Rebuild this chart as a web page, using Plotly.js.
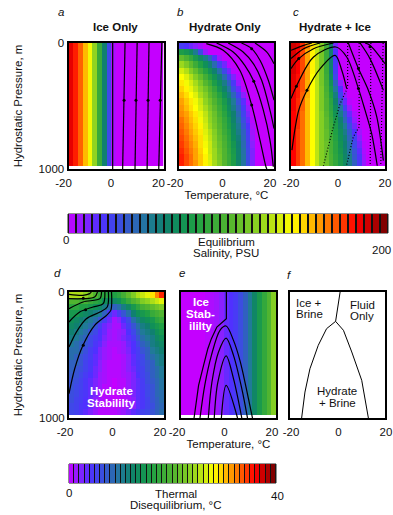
<!DOCTYPE html>
<html><head><meta charset="utf-8">
<script src="https://cdn.plot.ly/plotly-3.0.1.min.js"></script>
<style>html,body{margin:0;padding:0;background:#fff;overflow:hidden}#g{width:393px;height:515px}</style>
</head><body><div id="g"></div>
<script>
const FONT='"Liberation Sans",Arial,sans-serif';
const scale=[[0,'#c400ff'],[0.05,'#8a20ff'],[0.1,'#5030ff'],[0.15,'#3f48e8'],[0.2,'#3060c0'],[0.25,'#207a98'],[0.3,'#108070'],[0.35,'#109058'],[0.4,'#20a044'],[0.5,'#50b430'],[0.6,'#90d420'],[0.65,'#c8e810'],[0.7,'#ffff00'],[0.75,'#ffc800'],[0.8,'#ff8800'],[0.85,'#ff4800'],[0.9,'#ff0000'],[0.95,'#c00000'],[1,'#6c0000']];

// equilibrium salinity, PSU, per temperature column
const aProfile=[184,176,166,152,138,120,90,60,30,4];
const bRows=[
[25,20,15,10,5],
[78,74,68,52,32,8],
[105,98,88,76,66,54,40,22,6],
[122,114,104,92,80,70,58,44,28,14,2],
[132,126,116,106,94,82,72,60,46,30,14,2],
[140,134,126,116,106,94,82,72,58,44,28,12,2],
[144,138,132,124,114,102,92,78,68,54,40,24,8],
[148,142,136,128,120,110,100,88,74,62,48,32,16,2],
[152,146,140,134,124,116,104,94,82,70,56,42,26,10],
[156,150,144,138,130,120,110,100,88,76,64,50,34,18,4],
[158,152,146,140,132,124,114,104,92,80,68,54,40,24,8],
[160,156,150,144,136,128,118,108,96,84,72,60,44,28,12],
[164,158,152,146,138,130,120,110,100,88,76,62,48,32,16,2],
[166,160,154,148,142,132,122,112,102,90,78,66,52,36,20,4],
[168,162,156,150,144,134,126,116,104,92,82,68,54,40,24,6],
[170,164,158,152,146,136,128,118,106,96,84,70,58,42,26,8],
[172,166,160,154,146,138,130,120,108,98,86,74,60,44,28,10],
[174,168,162,156,148,140,130,122,110,100,88,76,62,46,30,12],
[176,170,164,156,150,142,132,122,112,100,90,78,62,48,30,12],
[176,170,164,158,150,142,134,124,114,102,90,78,64,48,32,12]];
const cRows=[
[188,184,174,160,146,132,116,92,60,14],
[186,180,170,156,142,128,112,90,60,20],
[186,180,170,156,142,128,112,90,60,20],
[186,180,170,156,142,128,112,90,60,22],
[186,180,170,156,142,128,112,90,62,24],
[184,178,168,156,140,128,112,92,66,30],
[184,178,168,154,140,128,112,94,72,40,10],
[184,176,168,154,140,128,114,96,76,48,20,2],
[182,176,166,154,140,128,114,98,80,56,28,8],
[182,174,166,152,140,128,114,100,84,62,38,16,2],
[182,174,166,152,140,128,114,100,86,68,48,26,8],
[180,174,164,152,140,128,116,102,88,72,54,36,16,4],
[180,174,164,152,140,128,116,104,90,76,60,42,24,8],
[180,174,164,152,140,128,116,104,92,78,64,50,32,14,2],
[180,172,164,152,140,128,116,106,94,80,68,54,38,20,6],
[180,172,164,152,140,128,116,106,94,82,70,58,42,26,10],
[180,172,164,152,140,128,116,108,96,84,72,60,46,30,14,2],
[180,172,164,152,140,128,116,108,96,84,74,62,48,34,18,4],
[180,172,164,152,140,128,116,108,98,86,76,64,52,36,22,6],
[180,172,164,152,140,128,116,110,98,88,76,66,54,40,24,8]];
// thermal disequilibrium, deg C
const dRows=[
[25,25,25,24,22,20,18,17,16,16,17,19,21,23,25,26,27,29,32,35],
[20,20,19,19,18,17,16,14,13,13,14,16,18,20,21,23,24,25,26,27],
[17,17,16,16,15,14,13,11,9,8,9,11,13,15,17,19,20,21,22,23],
[15,15,14,13,12,11,10,8,5,3,5,7,9,12,14,15,16,18,19,20],
[14,13,12,11,10,9,7,5,3,1,2,4,6,9,11,13,14,15,17,18],
[13,12,11,10,9,7,5,3,2,1,1,3,5,7,9,11,12,14,15,16],
[12,11,10,9,7,6,4,3,1.5,1,1.5,2,4,6,8,10,11,12,14,15],
[11,10,9,8,6,5,4,2.5,1.5,1,1.5,2.5,3.5,5,7,9,10,11,13,14],
[10,9,8,7,6,4.5,3.5,2,1,1,1,1.5,3,4,6,8,9,11,12,13],
[9,9,8,6.5,5,4,2.5,1.5,1,0.5,1,1.5,2.5,4,5,7,8,10,11,12],
[9,8,7,6,5,3.5,2.5,1.5,1,0.5,0.5,1,2,3.5,5,6,8,9,10,11],
[8,8,7,5.5,4.5,3.5,2,1,0.5,0.5,0.5,1,2,3.5,4.5,6,7,8,10,11],
[8,7,6.5,5.5,4.5,3,2,1,0.5,0.5,0.5,1,2,3,4.5,5.5,7,8,9,10],
[7.5,7,6,5,4,3,1.5,1,0.5,0.5,0.5,1,1.5,2.5,4,5.5,6.5,8,9,10],
[7,6.5,5.5,4.5,3.5,2.5,1.5,1,0.5,0,0.5,0.5,1.5,2.5,3.5,5,6.5,7.5,8.5,9.5],
[7,6,5.5,4.5,3.5,2.5,1.5,0.5,0.5,0,0.5,0.5,1.5,2.5,3.5,5,6,7,8.5,9.5],
[6.5,6,5,4.5,3.5,2.5,1.5,0.5,0.5,0,0.5,0.5,1,2.5,3.5,4.5,6,7,8.5,9],
[6.5,5.5,5,4,3,2,1,0.5,0.5,0,0,0.5,1,2,3.5,4.5,5.5,7,8,9],
[6,5.5,4.5,4,3,2,1,0.5,0.5,0.5,0.5,1,1.5,2,3.5,4.5,5.5,6.5,8,8.5],
[6,5.5,4.5,3.5,2.5,1.5,0.5,0.5,0.5,0.5,1,1.5,2.5,3.5,4.5,5.5,6,7,8,9]];
const eProfile=[0,0,0,0,0,0.4,0.8,1.2,2,3.2,4,4.8,6.4,8,10,12.8,15.2,17.6,20,23.2];

// contours: temperature (T) and pressure (P)
const aLinesT=[[-1.4,-1.4],[3.8,2.8],[8.9,8],[13.9,13.1],[19.3,18]];
const aLinesP=[[0,1000],[0,1000],[0,1000],[0,1000],[0,1000]];
const aDotsT=[3.4,8.4,13.5,18.6], aDotsP=[455,455,455,455];
const bLinesT=[[-8.5,-1.4,5.6,10.6,14.1,16.6,17],[-4.2,2.8,7.7,11.5,15.5,18.3,19.7],[0.7,7,11.3,14.8,18.3,20],[6.3,10.6,14.1,17.6,20],[12,16.9,20]];
const bLinesP=[[5,58,216,493,771,982,1000],[0,71,177,304,533,771,982],[0,71,164,296,533,679],[0,45,137,296,454],[0,71,164]];
const bDotsT=[10.6,11.5,10.6], bDotsP=[493,304,45];
const cLinesT=[[-19.6,-16.7,-13.2,-7.6,-1.2,1.6,3.7],[-20,-17.7,-10.4,-0.9,3.7,8.7,11.5,14.3,16.7],[-20,-16.7,-10.4,-1.9],[4.4,8.7,12.9,16.5,19.3],[-20,-14.6,-7.6],[9.4,13.6,19.3],[-20,-14.6,-11.1],[11.5,13.6,20]];
const cLinesP=[[850,533,375,203,98,216,362],[441,343,111,32,111,362,533,718,974],[203,124,45,0],[0,203,375,586,933],[124,45,0],[0,124,375],[58,19,0],[0,18,164]];
const cDotsLineT=[[4.1,4.1,0.9,-2,-6.2],[9,9,6.5,3.6],[14,13.7],[19.2,18.2]];
const cDotsLineP=[[0,354,482,666,975],[0,666,745,975],[0,975],[0,975]];
const cDotsT=[8.7,8.7,-13.2,-17.7,-16.7,13.6], cDotsP=[203,362,375,343,124,30];
const dLinesT=[[-20,-17.6,-14.1,-9.2,-4.2,-2.4,-2.1],[-20,-16.9,-12.7,-7,-3.9,-3.4],[-20,-15.5,-9.9,-5.6,-4.9],[-20,-14.1,-7,-6.3],[-20,-14.1,-9.2,-8],[-20,-14.1,-11.3,-10.6]];
const dLinesP=[[807,609,423,265,185,146,0],[437,318,212,159,119,0],[238,159,119,93,0],[132,79,53,0],[53,53,40,0],[19,26,13,0]];
const dDotsT=[-14,-13,-14], dDotsP=[423,140,50];
const eOuterT=[-14.5,-12.6,-10.5,-8.7,-7.2,-4.9,-0.9,-0.9], eOuterP=[1000,741,582,450,370,278,212,0];
const eLinesT=[[-12,-10,-7.2,-3.6,-1,2.1,5,8.4,10.1],[-8.5,-7,-4.2,-1,2.1,5.6,8],[-6,-4.5,-1,2.1,5.6],[-3,-1,3.8]];
const eLinesP=[[1000,741,503,304,270,384,556,847,1000],[1000,718,476,366,503,767,1000],[1000,718,507,688,1000],[1000,741,1000]];
const eDotsT=[-11.2,-0.8,9,18,-21.4], eDotsP=[-40,-40,-40,-40,675];
const fLinesT=[[1.1,-0.8,-4.6,-8.1,-11.6,-13.7,-15.1],[-0.8,2.5,6,10.2,13]];
const fLinesP=[[0,233,291,423,609,794,1000],[233,304,476,701,1000]];

const salinityBarCells=[2.5,7.5,12.5,17.5,22.5,27.5,32.5,37.5,42.5,47.5,52.5,57.5,62.5,67.5,72.5,77.5,82.5,87.5,92.5,97.5,102.5,107.5,112.5,117.5,122.5,127.5,132.5,137.5,142.5,147.5,152.5,157.5,162.5,167.5,172.5,177.5,182.5,187.5,192.5,197.5];
const thermalBarCells=[0.5,1.5,2.5,3.5,4.5,5.5,6.5,7.5,8.5,9.5,10.5,11.5,12.5,13.5,14.5,15.5,16.5,17.5,18.5,19.5,20.5,21.5,22.5,23.5,24.5,25.5,26.5,27.5,28.5,29.5,30.5,31.5,32.5,33.5,34.5,35.5,36.5,37.5,38.5,39.5];
const tempTicks=[-20,0,20], tempTickText=['-20','0','20'];
const pressTicks=[0,1000], pressTickText=['0','1000'];

const W=393,H=515,FS=11.5;
const pad=r=>r.concat(new Array(20-r.length).fill(0));
const fill=r=>new Array(20).fill(0).map(()=>r);
const panels=[
 {id:'',  box:[68.5,163.5,43,169], z:fill(pad(aProfile)), zmax:200, shift:-5},
 {id:'2', box:[179,274,43,169], z:bRows.map(pad), zmax:200, shift:-4},
 {id:'3', box:[291,385,43,169], z:cRows.map(pad), zmax:200, shift:0},
 {id:'4', box:[69,164,292,418], z:dRows, zmax:40, shift:-4},
 {id:'5', box:[181,276,292,418], z:fill(eProfile), zmax:40, shift:-4},
 {id:'6', box:[290,385,292,418], z:null, zmax:40, shift:1}
];
const traces=[], layout={width:W,height:H,margin:{l:0,r:0,t:0,b:0},paper_bgcolor:'#fff',plot_bgcolor:'#fff',showlegend:false,font:{family:FONT,size:FS,color:'#111'},annotations:[]};
const dom=b=>({x:[b[0]/W,b[1]/W],y:[1-b[3]/H,1-b[2]/H]});
panels.forEach((p,i)=>{
  const d=dom(p.box), xk='xaxis'+p.id, yk='yaxis'+p.id;
  layout[xk]={domain:d.x,range:[-20,20],anchor:'y'+p.id,tickmode:'array',tickvals:tempTicks,ticktext:tempTickText,ticks:'',showgrid:false,zeroline:false,showline:true,mirror:true,linecolor:'#000',linewidth:2,ticklabelshift:p.shift,ticklabeloverflow:'allow',tickfont:{size:FS},ticklabelstandoff:2};
  layout[yk]={domain:d.y,range:[1000,0],anchor:'x'+p.id,tickmode:'array',tickvals:pressTicks,ticktext:pressTickText,ticks:'',showgrid:false,zeroline:false,showline:true,mirror:true,linecolor:'#000',linewidth:2,tickfont:{size:FS},showticklabels:i===0||i===3};
  if(p.z) traces.push({type:'heatmap',z:p.z,x0:-19,dx:2,y0:24.4,dy:48.8,zmin:0,zmax:p.zmax,colorscale:scale,showscale:false,xaxis:'x'+p.id,yaxis:'y'+p.id,hoverinfo:'skip'});
});
layout.yaxis.title={text:'Hydrostatic Pressure, m',standoff:14,font:{size:FS}};
layout.yaxis4.title={text:'Hydrostatic Pressure, m',standoff:14,font:{size:FS}};
layout.xaxis2.title={text:'Temperature, °C',standoff:2,font:{size:FS}};
layout.xaxis5.title={text:'Temperature, °C',standoff:2,font:{size:FS}};

function lines(id,Ts,Ps,dash,w,straight){Ts.forEach((t,i)=>traces.push({type:'scatter',mode:'lines',x:t,y:Ps[i],xaxis:'x'+id,yaxis:'y'+id,line:{color:'#000',width:w||1.2,dash:dash||'solid',shape:straight?'linear':'spline',smoothing:0.9},hoverinfo:'skip'}));}
function dots(id,t,p,s){traces.push({type:'scatter',mode:'markers',x:t,y:p,xaxis:'x'+id,yaxis:'y'+id,cliponaxis:false,marker:{color:'#000',size:s||3},hoverinfo:'skip'});}
lines('',aLinesT,aLinesP); dots('',aDotsT,aDotsP);
lines('2',bLinesT,bLinesP); dots('2',bDotsT,bDotsP);
lines('3',cLinesT,cLinesP); lines('3',cDotsLineT,cDotsLineP,'1px,2px',1.2,true); dots('3',cDotsT,cDotsP);
lines('4',dLinesT,dLinesP); dots('4',dDotsT,dDotsP);
lines('5',[eOuterT],[eOuterP],'solid',1.2,true); lines('5',eLinesT,eLinesP); dots('5',eDotsT,eDotsP);
lines('6',fLinesT,fLinesP,'solid',1,true);

// colour bars: black backing shows through the gaps between cells
[[7,[68,388,214,233],salinityBarCells,200,2],[8,[69,276,464,483],thermalBarCells,40,1]].forEach(([n,b,cells,zmax,gap])=>{
  const d=dom(b);
  layout['xaxis'+n]={domain:d.x,range:[0,zmax],anchor:'y'+n,visible:false,fixedrange:true};
  layout['yaxis'+n]={domain:d.y,range:[0,1],anchor:'x'+n,visible:false,fixedrange:true};
  traces.push({type:'heatmap',z:[cells],x:cells,y:[0.5],dy:1,xgap:gap,ygap:0,zmin:0,zmax:zmax,colorscale:scale,showscale:false,xaxis:'x'+n,yaxis:'y'+n,hoverinfo:'skip'});
});
layout.shapes=[[68,388,214,233],[69,276,464,483]].map(b=>({type:'rect',xref:'paper',yref:'paper',x0:b[0]/W,x1:b[1]/W,y0:1-b[3]/H,y1:1-b[2]/H,fillcolor:'#111',line:{color:'#222',width:1},layer:'between'}));

function note(text,x,y,o){layout.annotations.push(Object.assign({text:text,xref:'paper',yref:'paper',x:x/W,y:1-y/H,xanchor:'center',yanchor:'middle',showarrow:false,font:{size:FS}},o||{}));}
const ital=t=>'<i>'+t+'</i>', bold=t=>'<b>'+t+'</b>';
const white={font:{size:FS,color:'#fff'}};
note(ital('a'),61,12); note(ital('b'),180,12); note(ital('c'),296,12);
note(ital('d'),58,273); note(ital('e'),182,273); note(ital('f'),289,275);
note(bold('Ice Only'),115,27); note(bold('Hydrate Only'),225,27); note(bold('Hydrate + Ice'),335,27);
note('0',66,240); note('200',392.5,250,{xanchor:'right'});
note('Equilibrium',226,242); note('Salinity, PSU',226,253);
note('0',69,493); note('40',277,496);
note('Thermal',176,494); note('Disequilibrium, °C',176,505);
note(bold('Hydrate'),111,391,white); note(bold('Stabililty'),111,403,white);
note(bold('Ice'),201,302,white); note(bold('Stab-'),201,314,white); note(bold('ililty'),201,326,white);
note('Ice +',309,303); note('Brine',309,314);
note('Fluid',362,305); note('Only',362,316);
note('Hydrate',337,391); note('+ Brine',337,403);

Plotly.newPlot('g',traces,layout,{staticPlot:true,displayModeBar:false});
</script></body></html>
